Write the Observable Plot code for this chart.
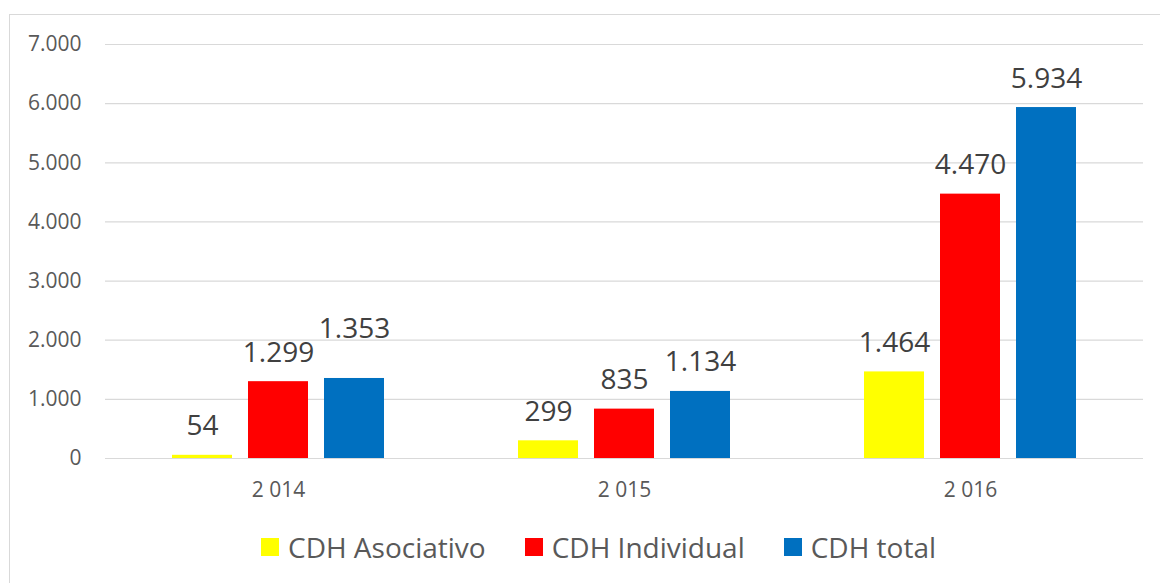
<!DOCTYPE html>
<html><head><meta charset="utf-8">
<script src="https://cdn.jsdelivr.net/npm/d3@7"></script>
<script src="https://cdn.jsdelivr.net/npm/@observablehq/plot@0.6"></script>
<style>
html,body{margin:0;padding:0;background:#fff;overflow:hidden;width:1160px;height:583px;}
#frame{position:absolute;left:9px;top:14px;width:1300px;height:800px;border:1px solid #d9d9d9;box-sizing:border-box;}
#chart{position:absolute;left:0;top:0;}
#legend{position:absolute;left:261px;top:533px;display:flex;align-items:center;font-family:"Open Sans";font-size:28px;line-height:28px;color:#595959;white-space:nowrap;}
.item{display:flex;align-items:center;margin-right:39px;}
.sw{width:18px;height:18px;margin-right:9px;}
</style></head><body>
<div id="frame"></div><div id="chart"></div><div id="legend"></div>
<script>
const years = ["2 014", "2 015", "2 016"];
const series = ["CDH Asociativo", "CDH Individual", "CDH total"];
const asociativo = [54, 299, 1464];
const individual = [1299, 835, 4470];
const total = [1353, 1134, 5934];
const colors = ["#FFFF00", "#FF0000", "#0070C0"];
const yTicks = [0, 1000, 2000, 3000, 4000, 5000, 6000, 7000];

const fmt = d3.formatLocale({decimal: ",", thousands: ".", grouping: [3], currency: ["", "€"]}).format(",.0f");
const valuesBySeries = [asociativo, individual, total];
const rows = years.flatMap((year, i) => series.map((s, j) => {
  const value = valuesBySeries[j][i];
  const prev = j > 0 ? valuesBySeries[j - 1][i] : null;
  return {year, series: s, value, bumped: prev !== null && Math.abs(value - prev) < 150};
}));

const chart = Plot.plot({
  width: 1160, height: 520,
  marginLeft: 105, marginRight: 17, marginTop: 44, marginBottom: 62,
  style: {fontFamily: "Open Sans", fontSize: "21px", color: "#595959", background: "transparent"},
  fx: {domain: years, padding: 0, label: null, tickSize: 0, tickPadding: 24},
  x: {domain: series, paddingInner: 0.208, paddingOuter: 0.851, axis: null},
  y: {domain: [0, 7000], ticks: yTicks, tickFormat: fmt, tickSize: 0, tickPadding: 24, label: null},
  color: {domain: series, range: colors},
  marks: [
    Plot.gridY(yTicks, {stroke: "#d9d9d9", strokeOpacity: 1, strokeWidth: 1.2}),
    Plot.barY(rows, {fx: "year", x: "series", y: "value", fill: "series"}),
    Plot.text(rows.filter(d => !d.bumped), {fx: "year", x: "series", y: "value", text: d => fmt(d.value), dy: -29, fontSize: 28, fill: "#404040"}),
    Plot.text(rows.filter(d => d.bumped), {fx: "year", x: "series", y: "value", text: d => fmt(d.value), dy: -49, fontSize: 28, fill: "#404040"})
  ]
});
document.getElementById("chart").appendChild(chart);

const legend = document.getElementById("legend");
series.forEach((s, j) => {
  const item = document.createElement("div");
  item.className = "item";
  const sw = document.createElement("div");
  sw.className = "sw";
  sw.style.background = colors[j];
  const label = document.createElement("span");
  label.textContent = s;
  item.appendChild(sw);
  item.appendChild(label);
  legend.appendChild(item);
});
</script>
</body></html>
